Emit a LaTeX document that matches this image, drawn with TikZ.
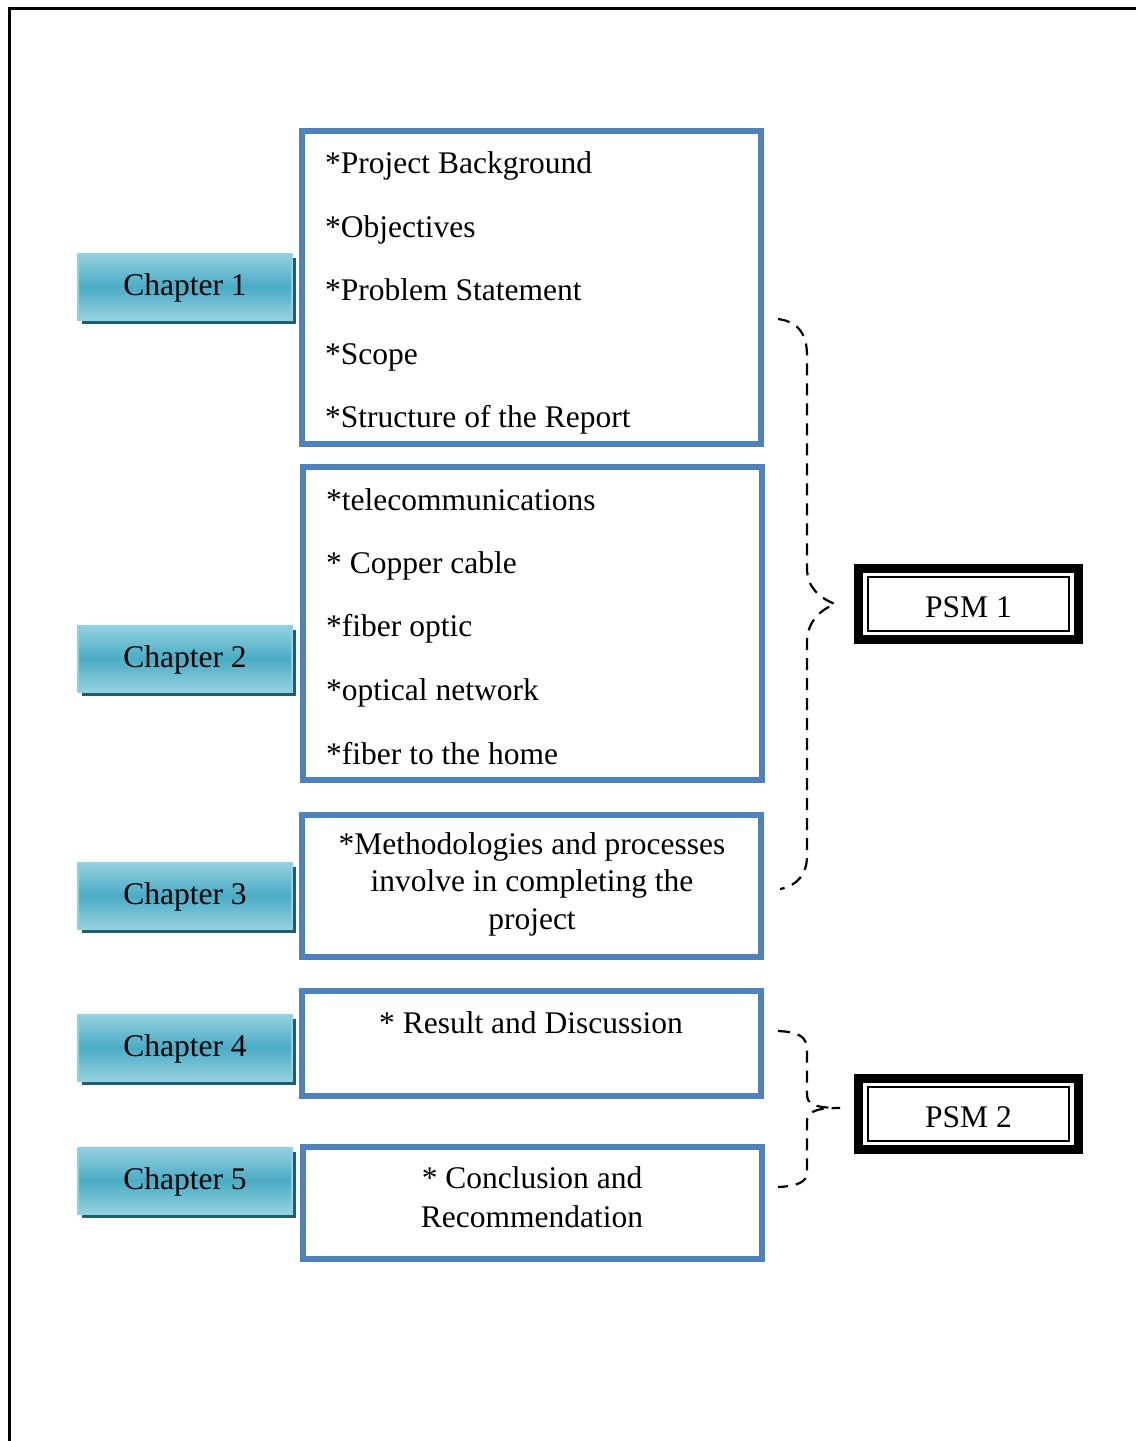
\documentclass[tikz,border=0pt]{standalone}
\usepackage{fontspec}
\setmainfont{Liberation Serif}
\usetikzlibrary{shadows,calc}
\definecolor{boxblue}{HTML}{4F81BD}
\definecolor{chapL}{HTML}{95D1E0}
\definecolor{chapM}{HTML}{4AACC5}
\definecolor{chapB}{HTML}{8FD3E3}
\definecolor{chapS}{HTML}{215F6E}
\begin{document}
\begin{tikzpicture}[x=1pt,y=-1pt,
  txt/.style={font=\fontsize{31.5}{37.5}\selectfont, inner sep=0pt, text=black},
  chap/.style={draw=chapB, line width=2pt, minimum width=214pt, minimum height=66pt,
    inner sep=0pt, outer sep=0pt, top color=chapL, bottom color=chapL, middle color=chapM,
    general shadow={fill=chapS, shadow xshift=4pt, shadow yshift=-4pt},
    font=\fontsize{31.5}{37.5}\selectfont, text=black, text height=22pt, text depth=5pt},
  topic/.style={draw=boxblue, line width=6pt, inner sep=0pt, outer sep=0pt, minimum width=459pt},
  psm/.style={draw=black, line width=9pt, inner sep=0pt, outer sep=0pt,
    minimum width=220pt, minimum height=71pt,
    font=\fontsize{31.5}{37.5}\selectfont, text height=28pt, text depth=0pt},
  psminner/.style={draw=black, line width=2pt},
  brace/.style={draw=black, line width=2.2pt, dash pattern=on 12pt off 8pt},
  frame/.style={draw=black, line width=2.5pt}
]
\useasboundingbox (0,0) rectangle (1136,1441);
\fill[white] (0,0) rectangle (1136,1441);

% outer frame (page border)
\coordinate (frTL) at (9.5,8.5);
\coordinate (frTR) at (1136,8.5);
\coordinate (frBL) at (9.5,1441);
\draw[frame] (frTR) -- (frTL) -- (frBL);

% chapter tabs
\node[chap] (c1) at (185,286.5) {Chapter 1};
\node[chap] (c2) at (185,658.5) {Chapter 2};
\node[chap] (c3) at (185,895.5) {Chapter 3};
\node[chap] (c4) at (185,1047.5) {Chapter 4};
\node[chap] (c5) at (185,1180.5) {Chapter 5};

% topic boxes
\node[topic, minimum height=313pt] (t1) at (531,287.5) {};
\node[topic, minimum height=313pt] (t2) at (532.5,623.5) {};
\node[topic, minimum height=142pt] (t3) at (531,885.5) {};
\node[topic, minimum height=105pt] (t4) at (531,1043.5) {};
\node[topic, minimum height=112pt] (t5) at (532,1203) {};

% box 1 items
\node[txt, anchor=base west] (t1a) at (325,173) {*Project Background};
\node[txt, anchor=base west] (t1b) at (325,237) {*Objectives};
\node[txt, anchor=base west] (t1c) at (325,300) {*Problem Statement};
\node[txt, anchor=base west] (t1d) at (325,364) {*Scope};
\node[txt, anchor=base west] (t1e) at (325,427) {*Structure of the Report};

% box 2 items
\node[txt, anchor=base west] (t2a) at (326,510) {*telecommunications};
\node[txt, anchor=base west] (t2b) at (326,573) {* Copper cable};
\node[txt, anchor=base west] (t2c) at (326,636) {*fiber optic};
\node[txt, anchor=base west] (t2d) at (326,700) {*optical network};
\node[txt, anchor=base west] (t2e) at (326,764) {*fiber to the home};

% box 3-5 texts (base anchor = last line baseline)
\node[txt, anchor=base, align=center] (t3a) at (532,929)
  {*Methodologies and processes\\involve in completing the\\project};
\node[txt, anchor=base] (t4a) at (531,1033) {* Result and Discussion};
\node[txt, anchor=base, align=center, font=\fontsize{31.5}{39}\selectfont] (t5a) at (532,1227)
  {* Conclusion and\\Recommendation};

% PSM boxes
\node[psm] (p1) at (968.5,603.5) {PSM 1};
\node[psm] (p2) at (968.5,1113.5) {PSM 2};
\draw[psminner] ($(p1.north west)+(9.5,9)$) rectangle ($(p1.south east)+(-9.5,-8.5)$);
\draw[psminner] ($(p2.north west)+(9.5,9)$) rectangle ($(p2.south east)+(-9.5,-8.5)$);

% brace to PSM 1
\coordinate (b1s) at (778,319);
\coordinate (b1tip) at (835,604);
\coordinate (b1e) at (780,889);
\draw[brace] (b1s) .. controls (800,322) and (807,336) .. (807,356)
  -- (807,568) .. controls (807,588) and (820,598) .. (b1tip)
  .. controls (820,610) and (807,622) .. (807,642)
  -- (807,856) .. controls (807,874) and (797,886) .. (b1e);

% brace to PSM 2
\coordinate (b2s) at (778,1031);
\coordinate (b2tip) at (840,1108);
\coordinate (b2e) at (778,1187);
\draw[brace] (b2s) .. controls (798,1032) and (807,1036) .. (807,1050)
  -- (807,1094) .. controls (807,1103) and (812,1108) .. (b2tip)
  .. controls (812,1108) and (807,1113) .. (807,1122)
  -- (807,1172) .. controls (807,1182) and (798,1186) .. (b2e);
\end{tikzpicture}
\end{document}
